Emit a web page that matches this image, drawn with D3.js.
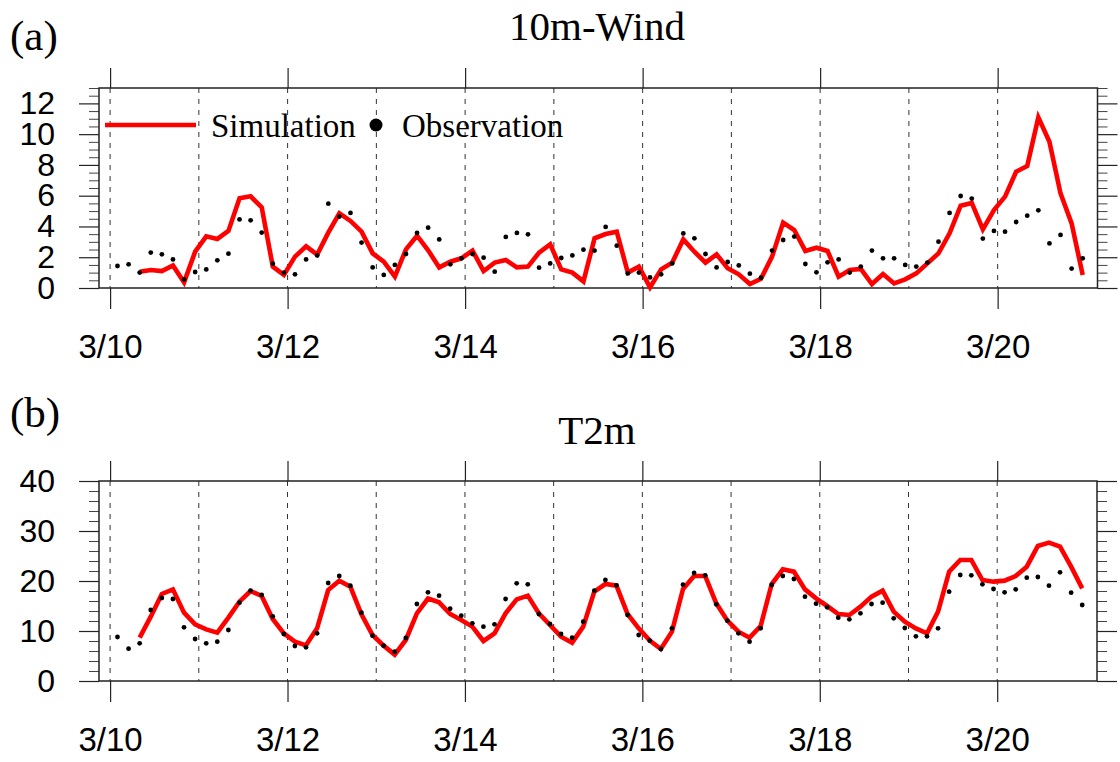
<!DOCTYPE html>
<html>
<head>
<meta charset="utf-8">
<script src="https://cdn.jsdelivr.net/npm/d3@7"></script>
<style>
  html, body { margin: 0; padding: 0; background: #fff; }
  svg { display: block; }
</style>
</head>
<body>
<svg id="chart" width="1120" height="762"></svg>
<script>
// ---------------- DATA ----------------
// Day offsets are measured from 3/10 00:00; data are 3-hourly.
const dayLabels = ["3/10", "3/12", "3/14", "3/16", "3/18", "3/20"];
const dayLabelOffsets = [0, 2, 4, 6, 8, 10];
const gridDays = [0, 1, 2, 3, 4, 5, 6, 7, 8, 9, 10];
const obsStartHour = 2;   // first observation: 3/10 02:00
const simStartHour = 8;   // first simulation: 3/10 08:00
const stepHours = 3;

const windObs = [1.43,1.54,1.0,2.30,2.19,1.86,0.56,1.04,1.21,1.80,2.23,4.46,4.40,3.60,1.58,1.0,0.89,1.86,2.12,5.48,4.64,4.88,2.95,1.34,0.85,1.50,2.21,3.58,3.92,
  3.16,1.54,1.93,2.21,1.97,1.06,3.32,3.58,3.49,1.32,1.60,1.95,2.12,2.49,2.43,3.97,2.75,0.95,1.0,0.69,0.89,1.60,3.55,3.23,2.21,1.34,1.69,1.47,0.93,
  0.67,2.43,3.12,3.34,1.56,1.02,1.67,1.86,1.0,1.39,2.43,1.93,1.93,1.5,1.39,1.65,3.01,4.88,5.98,5.81,3.21,3.71,3.66,4.29,4.70,5.05,2.90,3.45,1.26,1.93];
const windSim = [1.06,1.17,1.1,1.47,0.37,2.36,3.36,3.19,3.71,5.83,5.96,5.24,1.39,0.85,2.04,2.71,2.17,3.6,4.85,4.36,3.66,2.25,1.71,0.74,2.51,3.40,
  2.45,1.34,1.71,1.93,2.43,1.1,1.65,1.82,1.34,1.39,2.30,2.84,1.21,1.0,0.43,3.23,3.51,3.66,1.0,1.39,0.04,1.21,1.65,3.16,2.36,1.65,2.19,1.28,0.89,0.26,
  0.6,2.04,4.25,3.77,2.41,2.62,2.41,0.74,1.17,1.24,0.26,0.91,0.30,0.56,0.95,1.60,2.25,3.55,5.35,5.53,3.81,5.07,5.94,7.56,7.93,11.09,9.51,6.15,4.20,0.85];

const tempObs = [8.8,6.47,7.53,14.2,16.6,16.4,10.73,8.4,7.53,7.87,10.2,15.67,18.07,17.2,12.93,9.4,7.0,6.73,9.53,19.6,21.0,19.07,13.67,9.07,7.07,5.87,8.6,15.4,17.73,
  17.07,14.47,13.07,11.53,10.87,11.33,16.4,19.53,19.33,13.4,11.4,9.4,8.67,11.87,18.07,20.2,19.13,13.2,9.2,8.07,6.4,10.53,19.27,21.6,21.13,15.33,12.07,9.53,7.87,
  10.53,19.2,21.0,20.4,16.87,15.47,14.73,12.67,12.33,13.53,15.4,15.67,12.53,10.6,8.93,8.93,10.53,17.87,21.2,21.13,19.33,18.4,17.73,18.33,20.67,20.8,19.07,21.73,17.67,15.2];
const tempSim = [8.67,12.87,17.4,18.33,13.67,11.33,10.33,9.67,12.67,15.87,18.0,17.0,12.4,9.53,7.87,7.13,10.53,18.2,20.07,18.87,13.33,9.2,7.07,5.27,8.2,13.53,
  16.5,15.73,13.4,12.2,10.87,8.0,9.53,13.53,16.33,17.07,13.53,11.2,8.87,7.67,10.87,17.87,19.4,19.07,13.4,10.53,8.07,6.4,9.87,18.4,21.0,21.0,15.53,12.07,9.87,8.67,
  11.0,19.4,22.33,21.87,18.33,16.53,15.0,13.4,13.2,14.87,16.87,18.07,13.87,11.87,10.53,9.53,13.87,21.87,24.2,24.2,20.2,19.87,20.07,21.0,22.87,27.0,27.67,26.87,22.87,18.53];

const windMajor = [0, 2, 4, 6, 8, 10, 12];
const tempMajor = [0, 10, 20, 30, 40];

// ---------------- DRAW ----------------
const svg = d3.select("#chart");
const SANS = "'Liberation Sans', Arial, Helvetica, sans-serif";
const SERIF = "'Liberation Serif', 'Times New Roman', serif";
const RED = "#ff0000";
const AXIS = "#222";

function panel(opt) {
  const x = d3.scaleLinear().domain([-0.125, 11.125]).range([opt.left, opt.right]);
  const y = d3.scaleLinear().domain(opt.yDomain).range([opt.bottom, opt.top]);
  const g = svg.append("g");

  // dashed day lines
  g.selectAll("line.grid").data(gridDays).join("line")
    .attr("x1", d => x(d)).attr("x2", d => x(d))
    .attr("y1", opt.top).attr("y2", opt.bottom)
    .attr("stroke", "#333").attr("stroke-width", 1)
    .attr("stroke-dasharray", "5,6");

  // bottom axis
  const xb = d3.axisBottom(x).tickValues(dayLabelOffsets)
    .tickFormat((d, i) => dayLabels[i]).tickSize(21).tickPadding(26);
  const gb = g.append("g").attr("transform", `translate(0,${opt.bottom})`).call(xb);
  gb.select(".domain").remove();
  gb.selectAll("line").attr("stroke", AXIS).attr("stroke-width", 1.2);
  gb.selectAll("text").attr("font-family", SANS).attr("font-size", 33).attr("fill", "#000");

  // top axis ticks
  const xt = d3.axisTop(x).tickValues(dayLabelOffsets).tickFormat("").tickSize(20);
  const gt = g.append("g").attr("transform", `translate(0,${opt.top})`).call(xt);
  gt.select(".domain").remove();
  gt.selectAll("line").attr("stroke", AXIS).attr("stroke-width", 1.2);

  // y ticks (left and right), major + minor
  const minor = d3.range(opt.yDomain[0], opt.yDomain[1] + 1e-9, opt.minorStep)
    .filter(v => !opt.major.some(m => Math.abs(m - v) < 1e-9));
  const yl = d3.axisLeft(y).tickValues(opt.major).tickSize(20).tickPadding(24).tickFormat(d3.format("d"));
  const gl = g.append("g").attr("transform", `translate(${opt.left},0)`).call(yl);
  gl.select(".domain").remove();
  gl.selectAll("line").attr("stroke", AXIS).attr("stroke-width", 1.2);
  gl.selectAll("text").attr("font-family", SANS).attr("font-size", 32).attr("fill", "#000");
  const ylm = d3.axisLeft(y).tickValues(minor).tickSize(10).tickFormat("");
  const glm = g.append("g").attr("transform", `translate(${opt.left},0)`).call(ylm);
  glm.select(".domain").remove();
  glm.selectAll("line").attr("stroke", "#444").attr("stroke-width", 1);

  const yr = d3.axisRight(y).tickValues(opt.major).tickSize(20).tickFormat("");
  const gr = g.append("g").attr("transform", `translate(${opt.right},0)`).call(yr);
  gr.select(".domain").remove();
  gr.selectAll("line").attr("stroke", AXIS).attr("stroke-width", 1.2);
  const yrm = d3.axisRight(y).tickValues(minor).tickSize(10).tickFormat("");
  const grm = g.append("g").attr("transform", `translate(${opt.right},0)`).call(yrm);
  grm.select(".domain").remove();
  grm.selectAll("line").attr("stroke", "#444").attr("stroke-width", 1);

  // frame
  g.append("rect").attr("x", opt.left).attr("y", opt.top)
    .attr("width", opt.right - opt.left).attr("height", opt.bottom - opt.top)
    .attr("fill", "none").attr("stroke", AXIS).attr("stroke-width", 1.5);

  // simulation line
  const simPts = opt.sim.map((v, i) => [(simStartHour + stepHours * i) / 24, v]);
  g.append("path").datum(simPts)
    .attr("d", d3.line().x(d => x(d[0])).y(d => y(d[1])))
    .attr("fill", "none").attr("stroke", RED).attr("stroke-width", 4.6)
    .attr("stroke-linejoin", "miter");

  // observation dots
  const obsPts = opt.obs.map((v, i) => [(obsStartHour + stepHours * i) / 24, v]);
  g.selectAll("circle.obs").data(obsPts).join("circle")
    .attr("cx", d => x(d[0])).attr("cy", d => y(d[1])).attr("r", 2.4).attr("fill", "#000");

  // titles
  svg.append("text").attr("x", 10).attr("y", opt.tagY).text(opt.tag)
    .attr("font-family", SERIF).attr("font-size", 43).attr("fill", "#000");
  svg.append("text").attr("x", 597).attr("y", opt.titleY).text(opt.title)
    .attr("text-anchor", "middle").attr("font-family", SERIF).attr("font-size", 41).attr("fill", "#000");

  return { x, y, g };
}

panel({
  left: 99, right: 1097.5, top: 88, bottom: 288,
  yDomain: [0, 13], major: windMajor, minorStep: 0.5,
  sim: windSim, obs: windObs,
  tag: "(a)", tagY: 50, title: "10m-Wind", titleY: 40
});
panel({
  left: 99, right: 1097, top: 481, bottom: 681,
  yDomain: [0, 40], major: tempMajor, minorStep: 2,
  sim: tempSim, obs: tempObs,
  tag: "(b)", tagY: 427, title: "T2m", titleY: 444
});

// legend (panel a)
const lg = svg.append("g");
lg.append("line").attr("x1", 105).attr("x2", 196).attr("y1", 125).attr("y2", 125)
  .attr("stroke", RED).attr("stroke-width", 4.6);
lg.append("text").attr("x", 211).attr("y", 137).text("Simulation")
  .attr("font-family", SERIF).attr("font-size", 33).attr("fill", "#000");
lg.append("circle").attr("cx", 376).attr("cy", 125).attr("r", 6.5).attr("fill", "#000");
lg.append("text").attr("x", 402).attr("y", 137).text("Observation")
  .attr("font-family", SERIF).attr("font-size", 33).attr("fill", "#000");
</script>
</body>
</html>
